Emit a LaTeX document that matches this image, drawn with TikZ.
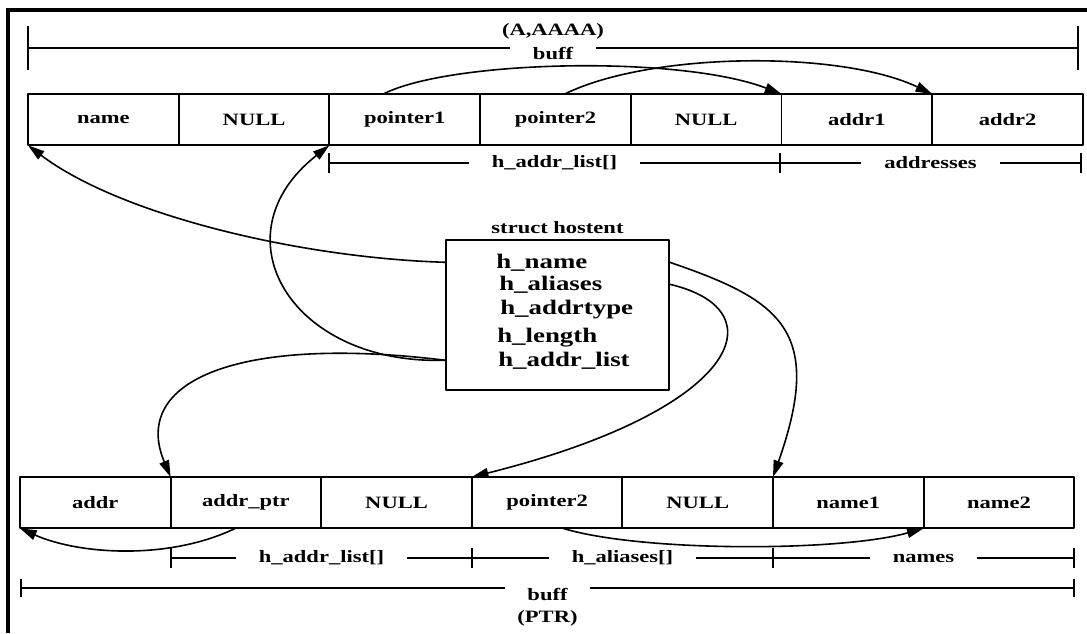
\documentclass[tikz,border=0pt]{standalone}
\usepackage{fontspec}
\setmainfont{Liberation Serif}[FakeStretch=1.3]
\usetikzlibrary{calc,arrows.meta,positioning}

\begin{document}
\begin{tikzpicture}[x=0.75pt,y=-0.75pt,>={Triangle[length=12.5pt,width=7.5pt]},line join=round,
  cell/.style={draw,line width=1.4pt,minimum width=113pt,minimum height=38.5pt,inner sep=0pt,outer sep=0pt,font=\bfseries\fontsize{13}{15}\selectfont},
  lbl/.style={inner sep=1pt,font=\bfseries\fontsize{13}{15}\selectfont},
  member/.style={inner sep=0pt,anchor=base west,font=\bfseries\fontsize{15.5}{18}\selectfont},
  ptr/.style={->,line width=1.2pt},
  spanline/.style={line width=0.9pt},
  spantick/.style={line width=1.6pt}]
  \useasboundingbox (0,0) rectangle (1087,633);

  % frame, cut by the picture edge
  \draw[line width=3pt,line join=miter] (8,633) -- (8,9.5) -- (1087,9.5);

  % the two buffers
  \foreach \txt [count=\i] in {name,NULL,pointer1,pointer2,NULL,addr1,addr2}
    \node[cell,anchor=north west] (t\i) at ({28+150.7*(\i-1)},94) {\txt};
  \foreach \txt [count=\i] in {addr,addr\_ptr,NULL,pointer2,NULL,name1,name2}
    \node[cell,anchor=north west] (b\i) at ({20+150.6*(\i-1)},477) {\txt};

  % struct hostent
  \node[draw,line width=1.3pt,minimum width=167pt,minimum height=112.5pt,inner sep=0pt] (host) at (557.5,315) {};
  \node[lbl,above=3pt of host] (hosttitle) {struct hostent};
  \node[member] (hname) at (496,268) {h\_name};
  \node[member] (haliases) at (499,290) {h\_aliases};
  \node[member] (haddrtype) at (500,314) {h\_addrtype};
  \node[member] (hlength) at (497,342) {h\_length};
  \node[member] (haddrlist) at (498,366) {h\_addr\_list};

  % spans under and over the buffers
  \foreach \xa/\xb/\yy/\hh/\dy/\txt [count=\i] in {28/1078/48/22/5/buff,
      329/780/163/10/0/{h\_addr\_list[]},780/1081/163/10/0/addresses,
      171/472/558/10/0/{h\_addr\_list[]},472/773/558/10/0/{h\_aliases[]},
      773/1074/558/10/0/names,21/1074/588/9/6/buff}
  {
    \coordinate (sa\i) at (\xa,\yy);
    \coordinate (sb\i) at (\xb,\yy);
    \node[lbl,inner xsep=17pt] (sl\i) at ($(sa\i)!0.5!(sb\i)+(0,\dy)$) {\txt};
    \draw[spanline] (sa\i) -- (sl\i.west |- sa\i) (sl\i.east |- sb\i) -- (sb\i);
    \draw[spantick] (\xa,\yy-\hh) -- (\xa,\yy+\hh) (\xb,\yy-\hh) -- (\xb,\yy+\hh);
  }
  \node[lbl,above=3pt of sl1] (bufftop) {(A,AAAA)};
  \node[lbl,below=5pt of sl7] (buffbot) {(PTR)};

  % pointers in the upper buffer
  \draw[ptr] ([xshift=-16pt]t3.north) .. controls (450,60) and (680,55) .. (t6.north west);
  \draw[ptr] ([xshift=7pt]t4.north) .. controls (650,52) and (840,50) .. (t7.north west);
  % from the struct
  \draw[ptr] (host.west |- hname) .. controls (300,258) and (120,215) .. (t1.south west);
  \draw[ptr] (host.west |- haddrlist) .. controls (290,365) and (215,235) .. (t2.south east);
  \draw[ptr] (host.west |- haddrlist) .. controls (240,335) and (130,380) .. (b2.north west);
  \draw[ptr] (host.east |- hname) .. controls (780,300) and (825,330) .. (b6.north west);
  \draw[ptr] (host.east |- haliases) .. controls (780,310) and (740,410) .. (b4.north west);
  % pointers in the lower buffer
  \draw[ptr] ([xshift=-8pt]b2.south) .. controls (170,560) and (80,555) .. (b1.south west);
  \draw[ptr] ([xshift=12pt]b4.south) .. controls (640,552) and (840,552) .. (b7.south west);
\end{tikzpicture}
\end{document}
